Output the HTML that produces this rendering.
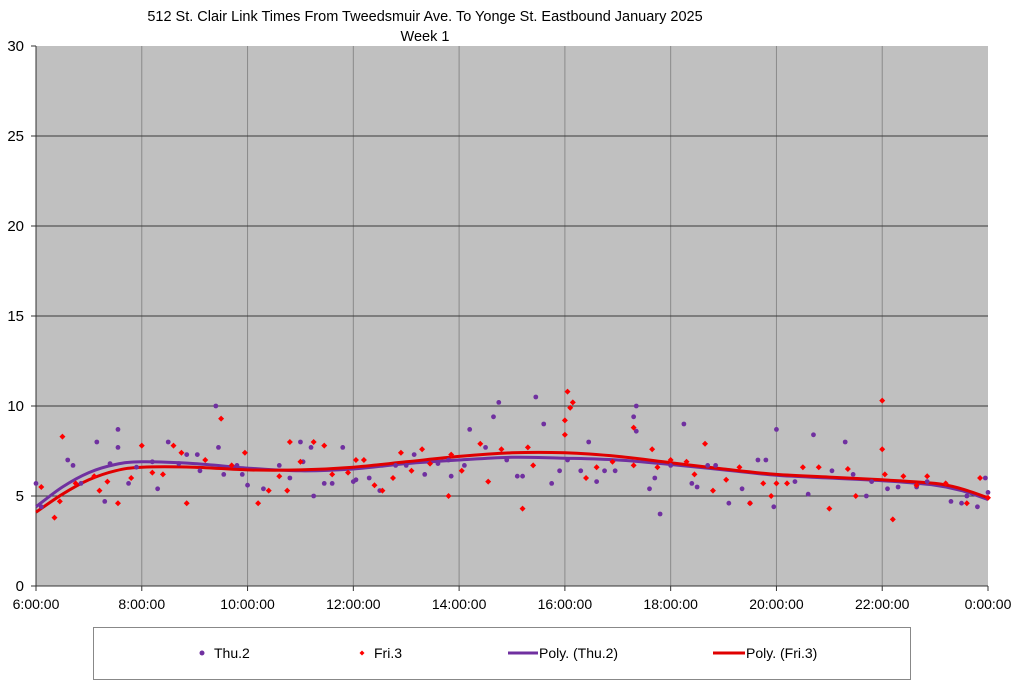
<!DOCTYPE html>
<html><head><meta charset="utf-8"><style>
body{margin:0;background:#fff;}
svg{display:block;font-family:"Liberation Sans Narrow","Liberation Sans",sans-serif;}
</style></head><body>
<svg id="chart" width="1024" height="686" viewBox="0 0 1024 686">
<text x="425" y="21" text-anchor="middle" font-size="14.5" font-family="Liberation Sans, sans-serif">512 St. Clair Link Times From Tweedsmuir Ave. To Yonge St. Eastbound January 2025</text>
<text x="425" y="41" text-anchor="middle" font-size="14.5" font-family="Liberation Sans, sans-serif">Week 1</text>
<rect x="36" y="46" width="952" height="540" fill="#c0c0c0"/>
<g id="grid"></g><g id="axes"></g><g id="trends"></g><g id="points"></g>
<g>
<rect x="93.5" y="627.5" width="817" height="52" fill="#fff" stroke="#888"/>
<g><circle cx="202" cy="653" r="2.5" fill="#7030a0"/><text x="214" y="658" font-size="14">Thu.2</text></g>
<g><path d="M362 650.5 L364.5 653 L362 655.5 L359.5 653Z" fill="#f00"/><text x="374" y="658" font-size="14">Fri.3</text></g>
<g><line x1="508" y1="653" x2="538" y2="653" stroke="#7030a0" stroke-width="3"/><text x="539" y="658" font-size="14">Poly. (Thu.2)</text></g>
<g><line x1="713" y1="653" x2="745" y2="653" stroke="#e00000" stroke-width="3"/><text x="746" y="658" font-size="14">Poly. (Fri.3)</text></g>
</g>
</svg>
<script>
const yTicks=[0,5,10,15,20,25,30];
const xTickHours=[6,8,10,12,14,16,18,20,22,24];
const xTickLabels=["6:00:00","8:00:00","10:00:00","12:00:00","14:00:00","16:00:00","18:00:00","20:00:00","22:00:00","0:00:00"];
const thuHours=[6.0,6.1,6.6,6.7,6.85,7.15,7.3,7.4,7.55,7.55,7.75,7.9,8.2,8.3,8.5,8.7,8.85,9.05,9.1,9.4,9.45,9.55,9.8,9.9,10.0,10.3,10.6,10.8,11.0,11.05,11.2,11.25,11.45,11.6,11.8,12.0,12.05,12.3,12.5,12.8,13.0,13.15,13.35,13.6,13.8,13.85,14.1,14.2,14.5,14.65,14.75,14.9,15.1,15.2,15.45,15.6,15.75,15.9,16.05,16.3,16.45,16.6,16.75,16.95,17.3,17.35,17.35,17.6,17.7,17.8,18.0,18.25,18.4,18.5,18.7,18.85,19.1,19.35,19.5,19.65,19.8,19.95,20.0,20.35,20.6,20.7,21.05,21.3,21.45,21.7,21.8,22.1,22.3,22.65,22.85,23.3,23.5,23.6,23.8,23.95,24.0];
const thuValues=[5.7,4.4,7.0,6.7,5.7,8.0,4.7,6.8,8.7,7.7,5.7,6.6,6.9,5.4,8.0,6.8,7.3,7.3,6.4,10.0,7.7,6.2,6.7,6.2,5.6,5.4,6.7,6.0,8.0,6.9,7.7,5.0,5.7,5.7,7.7,5.8,5.9,6.0,5.3,6.7,6.7,7.3,6.2,6.8,7.0,6.1,6.7,8.7,7.7,9.4,10.2,7.0,6.1,6.1,10.5,9.0,5.7,6.4,7.0,6.4,8.0,5.8,6.4,6.4,9.4,10.0,8.6,5.4,6.0,4.0,6.7,9.0,5.7,5.5,6.7,6.7,4.6,5.4,4.6,7.0,7.0,4.4,8.7,5.8,5.1,8.4,6.4,8.0,6.2,5.0,5.8,5.4,5.5,5.5,5.8,4.7,4.6,5.0,4.4,6.0,5.2];
const friHours=[6.1,6.35,6.45,6.5,6.75,7.1,7.2,7.35,7.55,7.8,8.0,8.2,8.4,8.6,8.75,8.85,9.2,9.5,9.7,9.95,10.2,10.4,10.6,10.75,10.8,11.0,11.25,11.45,11.6,11.9,12.05,12.2,12.4,12.55,12.75,12.9,13.1,13.3,13.45,13.8,13.85,14.05,14.4,14.55,14.8,15.2,15.3,15.4,16.0,16.0,16.05,16.15,16.1,16.4,16.6,16.9,17.3,17.3,17.65,17.75,18.0,18.3,18.45,18.65,18.8,19.05,19.3,19.5,19.75,19.9,20.0,20.2,20.5,20.8,21.0,21.35,21.5,22.0,22.0,22.05,22.2,22.4,22.65,22.85,23.2,23.6,23.85,24.0];
const friValues=[5.5,3.8,4.7,8.3,5.7,6.1,5.3,5.8,4.6,6.0,7.8,6.3,6.2,7.8,7.4,4.6,7.0,9.3,6.7,7.4,4.6,5.3,6.1,5.3,8.0,6.9,8.0,7.8,6.2,6.3,7.0,7.0,5.6,5.3,6.0,7.4,6.4,7.6,6.8,5.0,7.3,6.4,7.9,5.8,7.6,4.3,7.7,6.7,8.4,9.2,10.8,10.2,9.9,6.0,6.6,6.9,8.8,6.7,7.6,6.6,7.0,6.9,6.2,7.9,5.3,5.9,6.6,4.6,5.7,5.0,5.7,5.7,6.6,6.6,4.3,6.5,5.0,10.3,7.6,6.2,3.7,6.1,5.6,6.1,5.7,4.6,6.0,4.9];
const trendHours=[6,6.5,7,7.5,8,9,10,11,12,13,14,15,16,17,18,19,20,21,22,23,23.5,24];
const thuTrend=[4.4,5.5,6.3,6.75,6.9,6.8,6.55,6.4,6.5,6.8,7.0,7.15,7.1,7.0,6.75,6.45,6.15,6.0,5.85,5.6,5.3,4.8];
const friTrend=[4.1,5.1,5.9,6.4,6.6,6.6,6.45,6.45,6.6,6.9,7.2,7.4,7.4,7.2,6.85,6.5,6.2,6.05,5.9,5.7,5.4,4.9];

const NS="http://www.w3.org/2000/svg";
const X0=36,X1=988,Y0=586,Y1=46;
const xs=h=>X0+(h-6)/18*(X1-X0);
const ys=v=>Y0-v/30*(Y0-Y1);
function mk(tag,attrs,parent){const e=document.createElementNS(NS,tag);for(const k in attrs)e.setAttribute(k,attrs[k]);parent.appendChild(e);return e;}
const grid=document.getElementById('grid'),axes=document.getElementById('axes'),tr=document.getElementById('trends'),pts=document.getElementById('points');
xTickHours.forEach((h,i)=>{
 if(i>0&&i<xTickHours.length-1){const l=mk('line',{x1:xs(h),x2:xs(h),y1:Y1,y2:Y0,stroke:'#8a8a8a','stroke-width':1},grid);
 
 }
 const tk=mk('line',{x1:xs(h),x2:xs(h),y1:Y0,y2:Y0+5,stroke:'#333'},axes);
 
 
 const t=mk('text',{x:xs(h),y:609,'text-anchor':'middle','font-size':14},axes);t.textContent=xTickLabels[i];
 
 
});
yTicks.forEach(v=>{
 if(v>0&&v<30){const l=mk('line',{x1:X0,x2:X1,y1:ys(v),y2:ys(v),stroke:'#3a3a3a','stroke-width':1},grid);
 
 }
 const tk=mk('line',{x1:X0-5,x2:X0,y1:ys(v),y2:ys(v),stroke:'#333'},axes);
 
 
 const t=mk('text',{x:24,y:ys(v)+5,'text-anchor':'end','font-size':15},axes);t.textContent=v;
 
 
});
const ax=mk('path',{d:`M${X0} ${Y1} V${Y0} H${X1}`,fill:'none',stroke:'#333'},axes);


function smooth(hs,vs){const P=hs.map((h,i)=>[xs(h),ys(vs[i])]);let d=`M${P[0][0]} ${P[0][1]}`;
 for(let i=0;i<P.length-1;i++){const p0=P[i-1]||P[i],p1=P[i],p2=P[i+1],p3=P[i+2]||p2;
 d+=` C${p1[0]+(p2[0]-p0[0])/6} ${p1[1]+(p2[1]-p0[1])/6} ${p2[0]-(p3[0]-p1[0])/6} ${p2[1]-(p3[1]-p1[1])/6} ${p2[0]} ${p2[1]}`;}return d;}
thuHours.forEach((h,i)=>{const c=mk('circle',{cx:xs(h),cy:ys(thuValues[i]),r:2.4,fill:'#7030a0'},pts);
 
 });
friHours.forEach((h,i)=>{const x=xs(h),y=ys(friValues[i]);const p=mk('path',{d:`M${x} ${y-3} L${x+3} ${y} L${x} ${y+3} L${x-3} ${y}Z`,fill:'#f00'},pts);
 
 });
const t1=mk('path',{d:smooth(trendHours,thuTrend),fill:'none',stroke:'#7030a0','stroke-width':3},tr);


const t2=mk('path',{d:smooth(trendHours,friTrend),fill:'none',stroke:'#e00000','stroke-width':3},tr);


</script>
</body></html>
